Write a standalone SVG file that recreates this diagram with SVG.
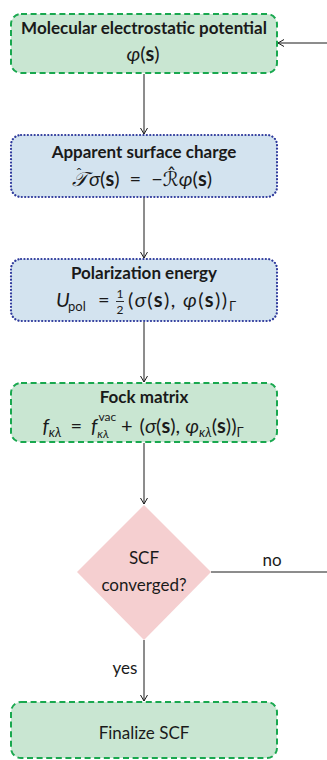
<svg xmlns="http://www.w3.org/2000/svg" width="327" height="760" viewBox="0 0 327 760">
<style>
.green{fill:#c9e6d2;stroke:#19a84f;stroke-width:2;stroke-dasharray:6 3.6}
.blue{fill:#d3e3ef;stroke:#2e3a9c;stroke-width:2.2;stroke-dasharray:0.1 3.3;stroke-linecap:round}
.diam{fill:#f5cfd0;stroke:none}
.t{font-family:Lato,"Liberation Sans",sans-serif;font-size:17px;fill:#1a1a1a;text-anchor:middle}
.b{font-weight:bold}
.m{font-family:Lato,"DejaVu Sans",sans-serif;font-size:20px;fill:#1a1a1a;text-anchor:middle}
.ms{font-family:Lato,"DejaVu Sans",sans-serif;font-size:20px;fill:#1a1a1a}
.i{font-style:italic}
.bs{font-weight:bold}
.s{font-size:13px}
.f{font-size:12px}
.edge{stroke:#1a1a1a;stroke-width:1;fill:none}
</style>
<defs>
<marker id="ah" markerWidth="10" markerHeight="10" refX="8" refY="5" orient="auto" markerUnits="userSpaceOnUse">
<path d="M2,1.5 L8,5 L2,8.5" fill="none" stroke="#1a1a1a" stroke-width="1"/>
</marker>
</defs>
<g id="connectors">
<line class="edge" x1="144" y1="74" x2="144" y2="134" marker-end="url(#ah)"/>
<line class="edge" x1="144" y1="197" x2="144" y2="258" marker-end="url(#ah)"/>
<line class="edge" x1="144" y1="322" x2="144" y2="382" marker-end="url(#ah)"/>
<line class="edge" x1="144" y1="443" x2="144" y2="504" marker-end="url(#ah)"/>
<line class="edge" x1="144" y1="640" x2="144" y2="701" marker-end="url(#ah)"/>
<polyline class="edge" points="211,572 327,572"/>
<line class="edge" x1="327" y1="43" x2="278" y2="43" marker-end="url(#ah)"/>
<text class="t" x="272" y="566">no</text>
<text class="t" x="125" y="674">yes</text>
</g>
<g id="mep">
<rect class="green" x="11" y="14" width="266" height="59" rx="10"/>
<text class="t b" x="144" y="34">Molecular electrostatic potential</text>
<text class="m" x="143" y="61"><tspan class="i">φ</tspan>(<tspan class="bs">s</tspan>)</text>
</g>
<g id="asc">
<rect class="blue" x="11" y="135" width="266" height="62" rx="10"/>
<text class="t b" x="144" y="158">Apparent surface charge</text>
<text class="m" x="142" y="186"><tspan class="i">𝒯</tspan><tspan font-size="15" dx="-11" dy="-7">ˆ</tspan><tspan class="i" dx="7" dy="7">σ</tspan>(<tspan class="bs">s</tspan>)<tspan dx="10">=</tspan><tspan dx="10">−</tspan>ℛ̂<tspan class="i">φ</tspan>(<tspan class="bs">s</tspan>)</text>
</g>
<g id="pol">
<rect class="blue" x="11" y="259" width="266" height="62" rx="10"/>
<text class="t b" x="144" y="279">Polarization energy</text>
<text class="ms i" x="56" y="307">U</text>
<text class="ms s" x="68" y="311">pol</text>
<text class="ms" x="98" y="307">=</text>
<text class="m f" x="120" y="298">1</text>
<line x1="116" y1="301.5" x2="124" y2="301.5" stroke="#1a1a1a" stroke-width="0.9"/>
<text class="m f" x="120" y="314">2</text>
<text class="ms" x="128" y="307" textLength="99" lengthAdjust="spacing">(<tspan class="i">σ</tspan>(<tspan class="bs">s</tspan>), <tspan class="i">φ</tspan>(<tspan class="bs">s</tspan>))</text>
<text class="ms s" x="229" y="311">Γ</text>
</g>
<g id="fock">
<rect class="green" x="11" y="383" width="266" height="59" rx="10"/>
<text class="t b" x="144" y="403">Fock  matrix</text>
<text class="m" x="143" y="433"><tspan class="i">f</tspan><tspan class="s i" dy="4">κλ</tspan><tspan dx="9" dy="-4">=</tspan><tspan class="i" dx="9">f</tspan><tspan class="f" dx="1" dy="-12">vac</tspan><tspan class="f i" dx="-19" dy="17">κλ</tspan><tspan dx="12" dy="-5">+</tspan><tspan dx="7">(</tspan><tspan class="i">σ</tspan>(<tspan class="bs">s</tspan>), <tspan class="i">φ</tspan><tspan class="s i" dy="4">κλ</tspan><tspan dy="-4">(</tspan><tspan class="bs">s</tspan>))<tspan class="s" dy="4">Γ</tspan></text>
</g>
<g id="scf">
<polygon class="diam" points="144,505 211,572 144,640 77,572"/>
<text class="t" x="144" y="564">SCF</text>
<text class="t" x="144" y="591">converged?</text>
</g>
<g id="final">
<rect class="green" x="11" y="702" width="266" height="56" rx="10"/>
<text class="t" x="144" y="739">Finalize SCF</text>
</g>
</svg>
